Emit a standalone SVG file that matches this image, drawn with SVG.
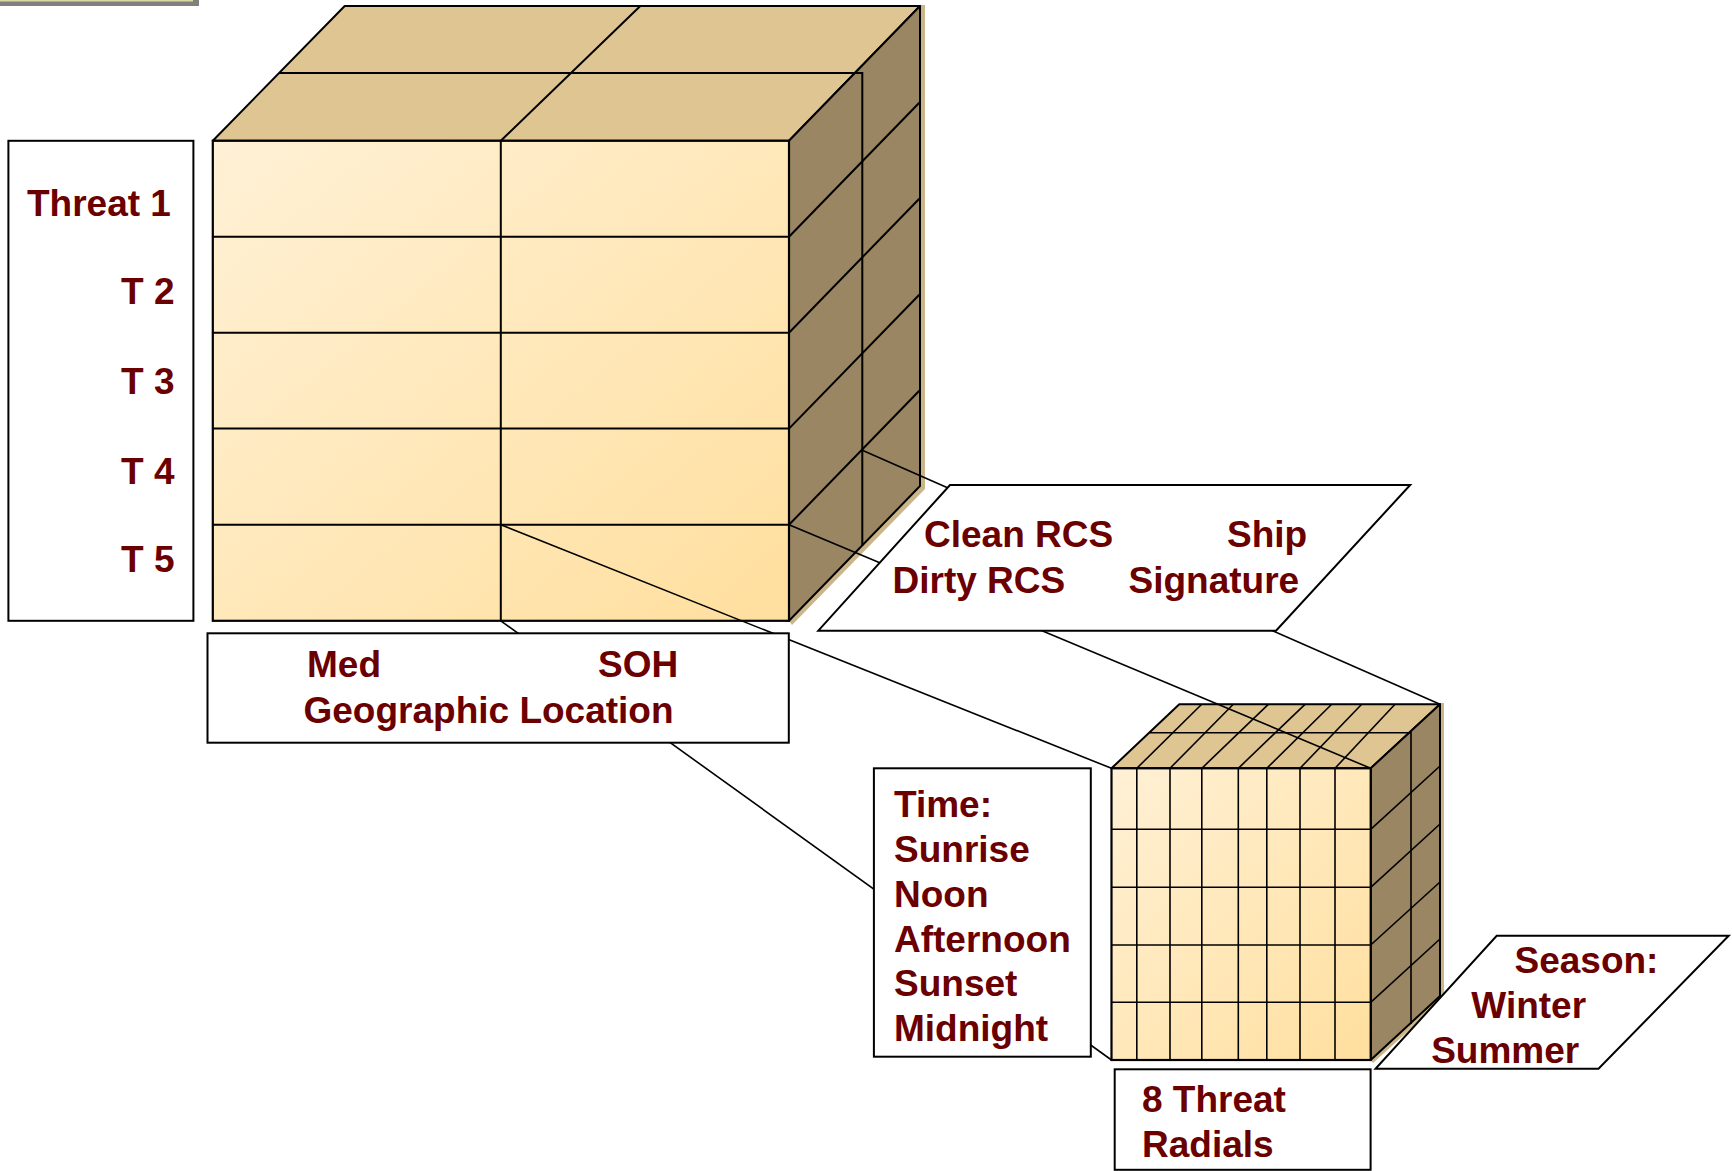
<svg xmlns="http://www.w3.org/2000/svg" width="1732" height="1171" viewBox="0 0 1732 1171">
<defs>
<linearGradient id="front" x1="0" y1="0" x2="1" y2="1">
<stop offset="0" stop-color="#fff1d6"/>
<stop offset="1" stop-color="#ffdf9e"/>
</linearGradient>
</defs>
<style>
.ln{stroke:#000;stroke-width:2;fill:none}
.thin{stroke:#000;stroke-width:1.6;fill:none}
.top{fill:#dfc592;stroke:#000;stroke-width:2;stroke-linejoin:round}
.side{fill:#9a8662;stroke:#000;stroke-width:2;stroke-linejoin:round}
.shadow{fill:#cbb68a}
.frontf{fill:url(#front);stroke:#000;stroke-width:2.2}
.box{fill:#fff;stroke:#000;stroke-width:2}
.t{font-family:"Liberation Sans",Arial,sans-serif;font-weight:bold;font-size:37px;fill:#6b0000}
</style>
<rect width="1732" height="1171" fill="#fff"/>
<g id="corner-bar">
<rect x="0" y="0" width="199" height="6" fill="#808080"/>
<rect x="0" y="0" width="193" height="1.5" fill="#d8d8a0"/>
</g>
<g id="big-cube">
<polygon class="shadow" points="920,5 925,5 925,489 792,625 789,620.8"/>
<polygon class="top" points="212.8,140.8 344.7,6 920,6 789,140.8"/>
<polygon class="side" points="789,140.8 920,6 920,486 789,620.8"/>
<rect class="frontf" x="212.8" y="140.8" width="576.2" height="480"/>
<g class="ln">
<line x1="212.8" y1="236.7" x2="789" y2="236.7"/>
<line x1="212.8" y1="332.7" x2="789" y2="332.7"/>
<line x1="212.8" y1="428.6" x2="789" y2="428.6"/>
<line x1="212.8" y1="524.8" x2="789" y2="524.8"/>
<line x1="500.8" y1="140.8" x2="500.8" y2="620.8"/>
<line x1="640.3" y1="6" x2="500.8" y2="140.8"/>
<polyline points="279,73 862.3,73 862.3,546"/>
<line x1="789" y1="236.7" x2="920" y2="102"/>
<line x1="789" y1="332.7" x2="920" y2="198"/>
<line x1="789" y1="428.6" x2="920" y2="294"/>
<line x1="789" y1="524.8" x2="920" y2="390"/>
</g>
</g>
<g id="small-cube">
<polygon class="shadow" points="1440,703 1444,703 1444,999 1373,1063 1370.7,1060"/>
<polygon class="top" points="1111.5,768.3 1179.3,704.3 1440,704.3 1370.7,768.3"/>
<polygon class="side" points="1370.7,768.3 1440,704.3 1440,996 1370.7,1060"/>
<rect class="frontf" x="1111.5" y="768.3" width="259.2" height="291.7"/>
<g class="thin">
<line x1="1111.5" y1="829.3" x2="1370.7" y2="829.3"/>
<line x1="1111.5" y1="887.3" x2="1370.7" y2="887.3"/>
<line x1="1111.5" y1="945" x2="1370.7" y2="945"/>
<line x1="1111.5" y1="1002.3" x2="1370.7" y2="1002.3"/>
<line x1="1136.8" y1="768.3" x2="1136.8" y2="1060"/>
<line x1="1170" y1="768.3" x2="1170" y2="1060"/>
<line x1="1201.8" y1="768.3" x2="1201.8" y2="1060"/>
<line x1="1238.3" y1="768.3" x2="1238.3" y2="1060"/>
<line x1="1266.8" y1="768.3" x2="1266.8" y2="1060"/>
<line x1="1300" y1="768.3" x2="1300" y2="1060"/>
<line x1="1335" y1="768.3" x2="1335" y2="1060"/>
<line x1="1136.8" y1="768.3" x2="1201.7" y2="704.3"/>
<line x1="1170" y1="768.3" x2="1233.3" y2="704.3"/>
<line x1="1201.8" y1="768.3" x2="1268.3" y2="704.3"/>
<line x1="1238.3" y1="768.3" x2="1305" y2="704.3"/>
<line x1="1266.8" y1="768.3" x2="1331.7" y2="704.3"/>
<line x1="1300" y1="768.3" x2="1361.7" y2="704.3"/>
<line x1="1335" y1="768.3" x2="1395" y2="704.3"/>
<polyline points="1150,732.7 1411,732.7 1411,1024"/>
<line x1="1370.7" y1="829.3" x2="1440" y2="766"/>
<line x1="1370.7" y1="887.3" x2="1440" y2="824"/>
<line x1="1370.7" y1="945" x2="1440" y2="882"/>
<line x1="1370.7" y1="1002.3" x2="1440" y2="939"/>
</g>
</g>
<g id="connectors" class="thin">
<line x1="500.8" y1="524.8" x2="1111.5" y2="768.3"/>
<line x1="500.8" y1="620.8" x2="1111.5" y2="1060"/>
<line x1="789" y1="524.8" x2="1370.7" y2="768.3"/>
<line x1="862.3" y1="450.3" x2="1440" y2="704.3"/>
</g>
<g id="threat-label">
<rect class="box" x="8.4" y="140.8" width="185" height="480"/>
<text class="t" x="27" y="215.5">Threat 1</text>
<text class="t" x="121" y="304">T 2</text>
<text class="t" x="121" y="393.9">T 3</text>
<text class="t" x="121" y="483.7">T 4</text>
<text class="t" x="121" y="572.2">T 5</text>
</g>
<g id="geo-label">
<rect class="box" x="207.5" y="633.3" width="581.3" height="109.4"/>
<text class="t" x="307" y="676.7">Med</text>
<text class="t" x="598" y="676.7">SOH</text>
<text class="t" x="303.5" y="723.3">Geographic Location</text>
</g>
<g id="signature-label">
<polygon class="box" points="950,485 1410.2,485 1276,630.7 818.3,630.7"/>
<text class="t" x="924" y="547.3">Clean RCS</text>
<text class="t" x="1227" y="547.3">Ship</text>
<text class="t" x="892.5" y="592.7">Dirty RCS</text>
<text class="t" x="1128.5" y="592.7">Signature</text>
</g>
<g id="time-label">
<rect class="box" x="873.9" y="768.3" width="216.9" height="288.4"/>
<text class="t" x="894" y="817.3">Time:</text>
<text class="t" x="894" y="861.7">Sunrise</text>
<text class="t" x="894" y="906.7">Noon</text>
<text class="t" x="894" y="951.7">Afternoon</text>
<text class="t" x="894" y="996">Sunset</text>
<text class="t" x="894" y="1040.7">Midnight</text>
</g>
<g id="radials-label">
<rect class="box" x="1114.7" y="1069.3" width="255.9" height="100.5"/>
<text class="t" x="1142" y="1111.7">8 Threat</text>
<text class="t" x="1142" y="1156.7">Radials</text>
</g>
<g id="season-label">
<polygon class="box" points="1496.7,935.8 1728.7,935.8 1598.5,1068.8 1375.5,1068.8"/>
<text class="t" x="1514.5" y="973.3">Season:</text>
<text class="t" x="1471.3" y="1018.3">Winter</text>
<text class="t" x="1431.2" y="1062.7">Summer</text>
</g>
</svg>
